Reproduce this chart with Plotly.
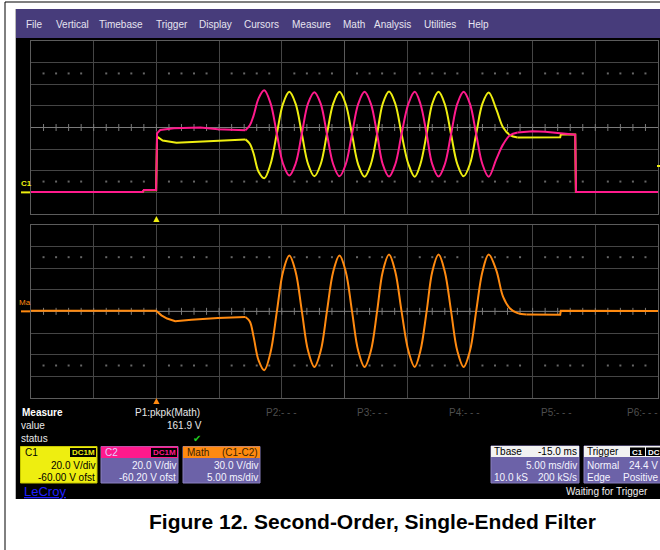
import numpy as np
import plotly.graph_objects as go

W, H = 660, 550
FONT = "Arial, Liberation Sans, sans-serif"

# ---------------- waveform data (time in ms, amplitude in V) ----------------
trigger_time = 0.0
trigger_level = 24.4

# C1 (yellow)
c1_flat_t = [-10.0, -1.1, -1.0, -0.02, 0.05, 0.5, 1.6, 3.5, 4.9, 7.1]
c1_flat_v = [0.3, 0.3, 2.0, 2.0, 51.5, 48.0, 46.0, 47.0, 48.0, 49.0]
c1_ring_t = [7.1, 7.45, 7.75, 8.15, 8.6, 9.1, 9.6, 10.1, 10.6, 11.1, 11.6, 12.1,
             12.6, 13.1, 13.6, 14.1, 14.6, 15.1, 15.6, 16.1, 16.6, 17.1, 17.6,
             18.05, 18.55, 19.05, 19.55, 20.1, 20.6, 21.05, 21.55, 22.0, 22.5,
             23.0, 23.5, 24.0, 24.5, 25.0, 25.5, 26.0, 26.5, 27.1, 27.65, 28.2, 28.8]
c1_ring_v = [49.0, 45.0, 36.0, 19.0, 13.0, 26.0, 54.0, 82.0, 93.0, 82.0, 54.0, 26.0,
             14.8, 26.0, 54.0, 82.0, 93.0, 81.5, 53.5, 25.5, 14.5, 26.0, 54.0,
             82.0, 93.3, 82.0, 54.0, 26.0, 14.5, 26.0, 54.0, 82.0, 93.0,
             81.5, 53.5, 26.0, 14.8, 26.0, 54.0, 82.0, 92.3, 77.0, 60.0, 53.0, 50.8]
c1_tail_t = [28.8, 30.0, 32.2, 32.25, 33.4, 33.45, 40.0]
c1_tail_v = [50.8, 51.0, 51.0, 53.5, 53.5, 0.3, 0.3]

# C2 (magenta)
c2_flat_t = [-10.0, -1.1, -1.0, -0.02, 0.05, 0.3, 1.4, 3.5, 4.9, 7.1]
c2_flat_v = [0.3, 0.3, 2.3, 2.3, 54.6, 57.7, 59.3, 60.0, 58.3, 57.4]
c2_ring_t = c1_ring_t
c2_ring_v = [57.4, 62.0, 71.0, 87.0, 94.4, 82.5, 54.5, 26.5, 15.7, 26.5, 54.5, 82.5,
             92.6, 82.0, 54.0, 26.0, 14.8, 26.0, 54.0, 82.0, 93.0, 82.0, 54.0,
             26.0, 14.6, 26.0, 54.0, 82.0, 93.0, 82.0, 54.0, 26.0, 14.6,
             26.0, 54.0, 82.0, 93.0, 82.0, 54.0, 26.0, 14.5, 30.6, 44.4, 52.8, 55.3]
c2_tail_t = [28.8, 30.0, 31.0, 32.2, 33.4, 33.46, 40.0]
c2_tail_v = [55.3, 56.5, 56.0, 54.6, 53.4, 0.3, 0.3]

# Math = C1 - C2 (orange)
math_flat_t = [-10.0, -0.02, 0.4, 0.85, 1.5, 2.8, 4.9, 7.1]
math_flat_v = [1.0, 1.0, -5.5, -10.0, -13.8, -11.5, -9.2, -7.8]
math_ring_t = [7.1, 7.45, 7.75, 8.15, 8.6, 9.1, 9.6, 10.1, 10.6, 11.1, 11.6, 12.1,
               12.6, 13.1, 13.6, 14.1, 14.6, 15.1, 15.6, 16.1, 16.6, 17.1, 17.6,
               18.05, 18.55, 19.05, 19.55, 20.1, 20.6, 21.05, 21.55, 22.0, 22.5,
               23.0, 23.5, 24.0, 24.5, 25.0, 25.5, 26.0, 26.5, 27.1, 27.65, 28.2,
               28.8, 29.5]
math_ring_v = [-7.8, -14.0, -35.0, -68.0, -81.6, -57.0, -1.0, 55.0, 77.4, 55.0, 0.0, -55.0,
               -77.0, -55.0, 0.0, 55.0, 77.4, 55.0, 0.0, -55.0, -77.0, -55.0, 0.0,
               55.0, 78.8, 55.0, 0.0, -55.0, -77.0, -55.0, 0.0, 55.0, 78.8,
               55.0, 0.0, -55.0, -77.0, -55.0, 0.0, 55.0, 78.8, 57.0, 20.0, 4.0,
               -2.5, -4.5]
math_tail_t = [29.5, 32.2, 32.25, 40.0]
math_tail_v = [-4.5, -4.6, 0.8, 0.5]

# ---------------- screen settings ----------------
t_range = [-10.0, 40.0]          # 5 ms/div, 10 divisions
t_div = 5.0
c_range = [-20.0, 140.0]         # 20 V/div, -60 V offset
c_div = 20.0
m_range = [-120.0, 120.0]        # 30 V/div
m_div = 30.0

YEL = "#eeee10"
MAG = "#ff1a8c"
ORA = "#ff8a10"
GRID = "#454545"
CENTER = "#7a7a7a"
PURPLE = "#6c62a8"


def px(x):
    return x / W


def py(y):
    return 1 - y / H


fig = go.Figure()


def add_line(t, v, color, axis, spline=False):
    xa, ya = ("x", "y") if axis == 1 else ("x2", "y2")
    fig.add_trace(go.Scatter(
        x=t, y=v, mode="lines", xaxis=xa, yaxis=ya, hoverinfo="skip",
        line=dict(color=color, width=2, shape="spline" if spline else "linear",
                  smoothing=1.0 if spline else None)))


def add_graticule(axis, yr, ydiv):
    xa, ya = ("x", "y") if axis == 1 else ("x2", "y2")
    yc = (yr[0] + yr[1]) / 2
    tc = (t_range[0] + t_range[1]) / 2
    # brighter centre cross
    fig.add_trace(go.Scatter(x=t_range, y=[yc, yc], mode="lines", xaxis=xa, yaxis=ya,
                             hoverinfo="skip", line=dict(color=CENTER, width=1)))
    fig.add_trace(go.Scatter(x=[tc, tc], y=yr, mode="lines", xaxis=xa, yaxis=ya,
                             hoverinfo="skip", line=dict(color="#5a5a5a", width=1)))
    # minor ticks on the horizontal centre line (1/5 division)
    tt = np.arange(t_range[0] + 1, t_range[1], t_div / 5)
    fig.add_trace(go.Scatter(x=tt, y=np.full(tt.size, yc), mode="markers",
                             xaxis=xa, yaxis=ya, hoverinfo="skip",
                             marker=dict(symbol="line-ns", size=5,
                                         line=dict(width=1, color=CENTER))))
    # dotted rows 2.5 divisions above / below centre
    td = tt[np.abs(np.mod(tt - t_range[0], t_div)) > 1e-6]
    for k in (-2.5, 2.5):
        fig.add_trace(go.Scatter(x=td, y=np.full(td.size, yc + k * ydiv), mode="markers",
                                 xaxis=xa, yaxis=ya, hoverinfo="skip",
                                 marker=dict(symbol="square", size=2, color="#666666",
                                             line=dict(width=0))))


add_graticule(1, c_range, c_div)
add_graticule(2, m_range, m_div)

add_line(c1_flat_t, c1_flat_v, YEL, 1)
add_line(c1_ring_t, c1_ring_v, YEL, 1, spline=True)
add_line(c1_tail_t, c1_tail_v, YEL, 1)
add_line(c2_flat_t, c2_flat_v, MAG, 1)
add_line(c2_ring_t, c2_ring_v, MAG, 1, spline=True)
add_line(c2_tail_t, c2_tail_v, MAG, 1)
add_line(math_flat_t, math_flat_v, ORA, 2)
add_line(math_ring_t, math_ring_v, ORA, 2, spline=True)
add_line(math_tail_t, math_tail_v, ORA, 2)

axis_common = dict(showticklabels=False, ticks="", zeroline=False, showgrid=True,
                   gridcolor=GRID, gridwidth=1, showline=True, mirror=True,
                   linecolor="#5c5c5c", linewidth=1, fixedrange=True)

shapes = []
ann = []


def rect(x0, y0, x1, y1, fill, line=None, layer="below"):
    shapes.append(dict(type="rect", xref="paper", yref="paper",
                       x0=px(x0), x1=px(x1), y0=py(y0), y1=py(y1),
                       fillcolor=fill, layer=layer,
                       line=dict(width=1 if line else 0, color=line or fill)))


def text(x, y, s, size=10, color="white", anchor="left", bold=False, **kw):
    ann.append(dict(x=px(x), y=py(y), xref="paper", yref="paper", text=f"<b>{s}</b>" if bold else s,
                    showarrow=False, xanchor=anchor, yanchor="middle",
                    font=dict(family=FONT, size=size, color=color), borderpad=0, **kw))


# outer frame and the scope screen
rect(5, 2, 668, 560, "white", line="black")
rect(15, 9, 668, 499, "black")
shapes.append(dict(type="line", xref="paper", yref="paper", x0=px(15.5), x1=px(15.5),
                   y0=py(9), y1=py(499), line=dict(color="#b8b8b8", width=1), layer="below"))
rect(16, 9, 668, 38, "#473c7b")

# menu bar
for label, x in [("File", 25), ("Vertical", 55), ("Timebase", 98), ("Trigger", 155),
                 ("Display", 198), ("Cursors", 243), ("Measure", 291), ("Math", 342),
                 ("Analysis", 373), ("Utilities", 423), ("Help", 467)]:
    text(x, 24.5, label, size=10, color="#e6e4f0")

# channel ground markers
shapes.append(dict(type="line", xref="paper", yref="y", x0=px(21), x1=px(30), y0=0, y1=0,
                   line=dict(color=YEL, width=2)))
shapes.append(dict(type="line", xref="paper", yref="y2", x0=px(21), x1=px(30), y0=0, y1=0,
                   line=dict(color=ORA, width=2)))
ann.append(dict(x=px(19), y=0, xref="paper", yref="y", text="<b>C1</b>", showarrow=False,
                xanchor="left", yanchor="bottom", yshift=2,
                font=dict(family=FONT, size=8, color=YEL)))
ann.append(dict(x=px(17), y=0, xref="paper", yref="y2", text="Ma", showarrow=False,
                xanchor="left", yanchor="bottom", yshift=2,
                font=dict(family=FONT, size=8, color=ORA)))

# trigger level marker on the right edge
shapes.append(dict(type="line", xref="paper", yref="y", x0=px(657), x1=px(661),
                   y0=trigger_level, y1=trigger_level, line=dict(color=YEL, width=2)))

# trigger position markers
hw = 0.25
shapes.append(dict(type="path", xref="x", yref="paper",
                   path=f"M {trigger_time - hw},{py(222)} L {trigger_time + hw},{py(222)} "
                        f"L {trigger_time},{py(216)} Z",
                   fillcolor=YEL, line=dict(width=0)))
shapes.append(dict(type="path", xref="x2", yref="paper",
                   path=f"M {trigger_time - hw},{py(404)} L {trigger_time + hw},{py(404)} "
                        f"L {trigger_time},{py(398)} Z",
                   fillcolor=ORA, line=dict(width=0)))

# measurement area
text(21, 412, "Measure", size=10, bold=True)
text(20, 425, "value", size=10, color="#e8e8e8")
text(20, 438, "status", size=10, color="#e8e8e8")
text(201, 412, "P1:pkpk(Math)", size=10, color="#e8e8e8", anchor="right")
text(203, 425, "161.9 V", size=10, color="#e8e8e8", anchor="right")
text(197, 438, "✔", size=10, color="#22cc22", anchor="center")
for lbl, x in [("P2:- - -", 265), ("P3:- - -", 356), ("P4:- - -", 448),
               ("P5:- - -", 540)]:
    text(x, 412, lbl, size=10, color="#4e4e4e")
text(659, 412, "P6:- - -", size=10, color="#4e4e4e", anchor="right")

# channel descriptor boxes
rect(20.5, 446.5, 97, 483, YEL, line="#c8c800", layer="above")
text(24, 452, "C1", size=10, color="black")
rect(70, 448, 96, 457, "black", layer="above")
text(83, 452.5, "DC1M", size=8, color=YEL, anchor="center", bold=True)
text(96, 465, "20.0 V/div", size=10, color="black", anchor="right")
text(96, 477, "-60.00 V ofst", size=10, color="black", anchor="right")

rect(101, 446.5, 178, 483, PURPLE, line="#8a80c0", layer="above")
rect(101, 446.5, 178, 458, MAG, layer="above")
text(104, 452, "C2", size=10, color="#e2cfff")
rect(151, 448, 177, 457, "black", layer="above")
text(164, 452.5, "DC1M", size=8, color=MAG, anchor="center", bold=True)
text(177, 465, "20.0 V/div", size=10, color="#f4f4ff", anchor="right")
text(177, 477, "-60.20 V ofst", size=10, color="#f4f4ff", anchor="right")

rect(183, 446.5, 260, 483, PURPLE, line="#8a80c0", layer="above")
rect(183, 446.5, 260, 458, ORA, layer="above")
text(186, 452, "Math", size=10, color="#3a2200")
text(259, 452, "(C1-C2)", size=10, color="#3a2200", anchor="right")
text(259, 465, "30.0 V/div", size=10, color="#f4f4ff", anchor="right")
text(259, 477, "5.00 ms/div", size=10, color="#f4f4ff", anchor="right")

rect(491, 446, 579, 483, PURPLE, line="#8a80c0", layer="above")
rect(491, 446, 579, 457, "#f2f2f2", layer="above")
text(493, 451.5, "Tbase", size=10, color="black")
text(578, 451.5, "-15.0 ms", size=10, color="black", anchor="right")
text(578, 465, "5.00 ms/div", size=10, color="#f4f4ff", anchor="right")
text(493, 477, "10.0 kS", size=10, color="#f4f4ff")
text(578, 477, "200 kS/s", size=10, color="#f4f4ff", anchor="right")

rect(584, 446, 668, 483, PURPLE, line="#8a80c0", layer="above")
rect(584, 446, 668, 457, "#f2f2f2", layer="above")
text(586, 451.5, "Trigger", size=10, color="black")
rect(630, 447.5, 645, 456, "black", layer="above")
text(637.5, 452, "C1", size=8, color="white", anchor="center", bold=True)
rect(646, 447.5, 662, 456, "black", layer="above")
text(647, 452, "DC", size=8, color="white", bold=True)
text(586, 465, "Normal", size=10, color="#f4f4ff")
text(659, 465, "24.4 V", size=10, color="#f4f4ff", anchor="right")
text(586, 477, "Edge", size=10, color="#f4f4ff")
text(659, 477, "Positive", size=10, color="#f4f4ff", anchor="right")

text(23, 491, "<u>LeCroy</u>", size=13, color="#2020ff")
text(565, 491, "Waiting for Trigger", size=10, color="#f0f0f0")

# figure caption
text(372, 521, "Figure 12. Second-Order, Single-Ended Filter", size=21, color="black",
     anchor="center", bold=True)

fig.update_layout(
    width=W, height=H, margin=dict(l=0, r=0, t=0, b=0, pad=0),
    paper_bgcolor="white", plot_bgcolor="black", showlegend=False,
    xaxis=dict(domain=[px(31), px(658)], range=t_range, dtick=t_div, tick0=t_range[0],
               anchor="y", **axis_common),
    yaxis=dict(domain=[py(214), py(41)], range=c_range, dtick=c_div, tick0=c_range[0],
               anchor="x", **axis_common),
    xaxis2=dict(domain=[px(31), px(658)], range=t_range, dtick=t_div, tick0=t_range[0],
                anchor="y2", matches="x", **axis_common),
    yaxis2=dict(domain=[py(398), py(224.7)], range=m_range, dtick=m_div, tick0=m_range[0],
                anchor="x2", **axis_common),
    shapes=shapes, annotations=ann,
)

fig.write_html("out.html")
